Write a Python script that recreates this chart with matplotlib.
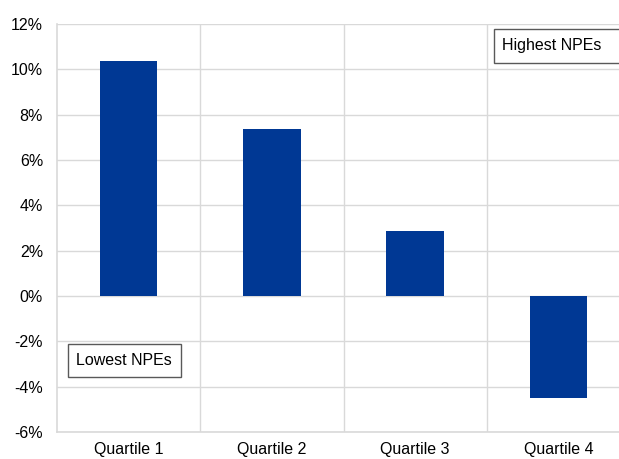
import matplotlib
matplotlib.use("Agg")
import matplotlib.pyplot as plt
from matplotlib.ticker import FuncFormatter
from matplotlib.patches import Rectangle

categories = ["Quartile 1", "Quartile 2", "Quartile 3", "Quartile 4"]
values = [10.35, 7.35, 2.88, -4.48]
y_ticks = [-6, -4, -2, 0, 2, 4, 6, 8, 10, 12]

plt.rcParams['font.family'] = ['Liberation Sans', 'DejaVu Sans']

fig = plt.figure(figsize=(6.19, 4.59), dpi=100)
ax = fig.add_axes([57/619, 27/459, 573/619, 408/459])

x = list(range(len(categories)))
ax.bar(x, values, width=0.4, color="#003894", zorder=3)

ax.set_xlim(-0.5, 3.5)
ax.set_ylim(-6, 12)
ax.set_yticks(y_ticks)
ax.yaxis.set_major_formatter(FuncFormatter(lambda v, p: f"{v:.0f}%"))
ax.set_xticks(x)
ax.set_xticklabels(categories)
ax.set_xticks([0.5, 1.5, 2.5], minor=True)

ax.grid(axis='y', which='major', color="#d9d9d9", linewidth=1, zorder=0)
ax.grid(axis='x', which='minor', color="#d9d9d9", linewidth=1, zorder=0)
ax.tick_params(axis='both', which='both', length=0, labelsize=11.5, colors="#000000")
ax.tick_params(axis='y', pad=10)
ax.tick_params(axis='x', pad=7)

for s in ['top', 'right']:
    ax.spines[s].set_visible(False)
for s in ['left', 'bottom']:
    ax.spines[s].set_color("#d9d9d9")
    ax.spines[s].set_linewidth(1.2)

# annotation boxes
ax.add_patch(Rectangle((-0.423, -3.57), 0.789, 1.45, facecolor='white',
                       edgecolor='#595959', linewidth=1, zorder=4, clip_on=False))
ax.text(-0.367, -2.85, "Lowest NPEs", fontsize=11.5, va='center', ha='left', zorder=5)
ax.add_patch(Rectangle((2.55, 10.28), 0.95, 1.5, facecolor='white',
                       edgecolor='#595959', linewidth=1, zorder=4, clip_on=True))
ax.text(2.606, 11.03, "Highest NPEs", fontsize=11.5, va='center', ha='left', zorder=5)

fig.savefig("out.png", dpi=100)
